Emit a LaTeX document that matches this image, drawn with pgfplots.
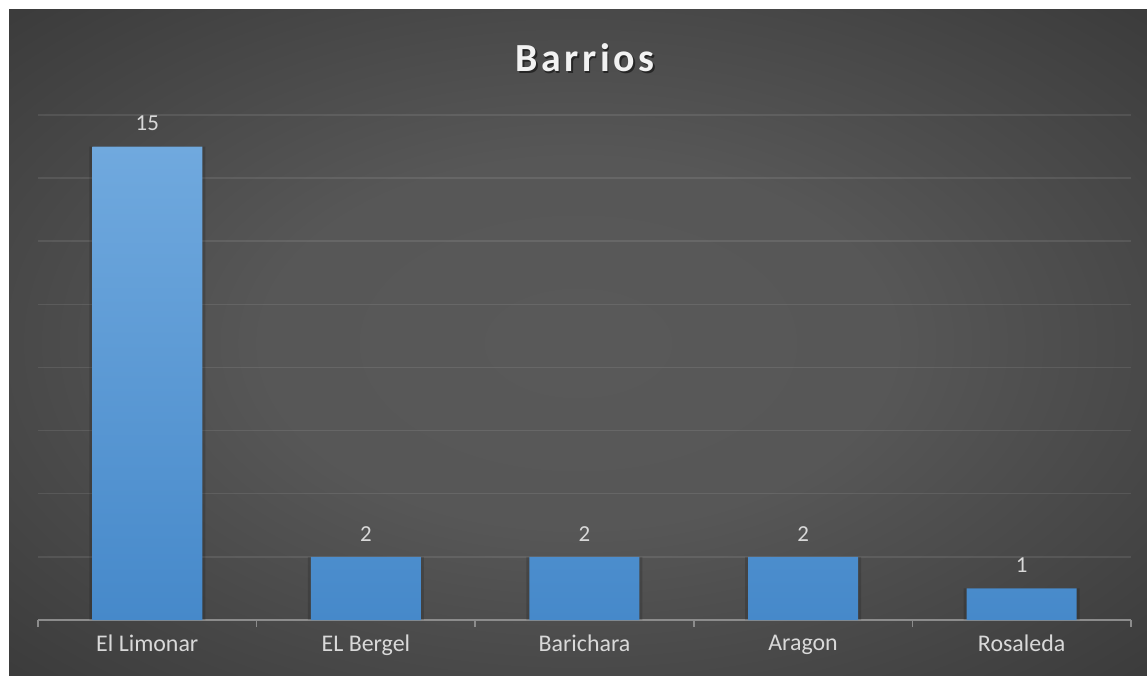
\documentclass[border=0pt]{standalone}
\usepackage{pgfplots}
\pgfplotsset{compat=1.18}
\usepackage{fontspec}
\setmainfont{Carlito}
\newfontfamily\titlefont[LetterSpace=9]{Carlito}

\definecolor{bartop}{HTML}{70A9DE}
\definecolor{barbot}{HTML}{4689CA}
\definecolor{lbl}{HTML}{D9D9D9}
\definecolor{axln}{HTML}{8C8C8C}

\pgfdeclareradialshading{chartbg}{\pgfpoint{0bp}{0bp}}{%
  color(0bp)=(white!35!black);
  color(14bp)=(white!34!black);
  color(32bp)=(white!25!black);
  color(50bp)=(white!16!black);
  color(72bp)=(white!13!black)}

\begin{document}
\begin{tikzpicture}
\fill[white] (0,0) rectangle (1147bp,676bp);
\useasboundingbox (0,0) rectangle (1147bp,676bp);
\shade[shading=chartbg] (9bp,0) rectangle (1147bp,666bp);

% title with soft shadow
\node[text=black, opacity=0.5, font=\titlefont\bfseries\fontsize{40}{48}\selectfont] at (586.5bp,616.5bp) {Barrios};
\node[text=white!95!black, font=\titlefont\bfseries\fontsize{40}{48}\selectfont] at (585bp,618bp) {Barrios};

\begin{axis}[
    at={(38bp,56bp)}, anchor=south west,
    scale only axis,
    width=1093bp, height=505bp,
    xmin=-0.5, xmax=4.5,
    ymin=0, ymax=16,
    ytick={2,4,...,16}, yticklabels={},
    ymajorgrids,
    major grid style={white, opacity=0.09, line width=1.5bp},
    xtick={0,1,2,3,4},
    xticklabels={El Limonar, EL Bergel, Barichara, Aragon, Rosaleda},
    minor xtick={-0.5,0.5,1.5,2.5,3.5,4.5},
    major x tick style={draw=none},
    minor tick length=7bp,
    minor x tick style={axln, line width=1.5bp},
    tick align=outside,
    xtick pos=bottom, ytick pos=left,
    major y tick style={draw=none},
    axis x line*=bottom,
    axis y line*=left,
    y axis line style={draw=none},
    x axis line style={axln, line width=1.8bp, -},
    x tick label style={text=lbl, font=\fontsize{24}{28}\selectfont, yshift=-7bp},
    /pgf/number format/assume math mode=true,
    clip=false,
]
% soft shadow behind the bars
\addplot[ybar, bar shift=0pt, bar width=116bp, draw=none, fill=black, opacity=0.15]
coordinates {(0,15) (1,2) (2,2) (3,2) (4,1)};
\addplot[ybar, bar shift=0pt, bar width=110bp, draw=none, top color=bartop, bottom color=barbot,
    nodes near coords,
    nodes near coords style={text=lbl, font=\fontsize{23}{27}\selectfont, yshift=12bp}]
coordinates {(0,15) (1,2) (2,2) (3,2) (4,1)};
\end{axis}
\end{tikzpicture}
\end{document}
